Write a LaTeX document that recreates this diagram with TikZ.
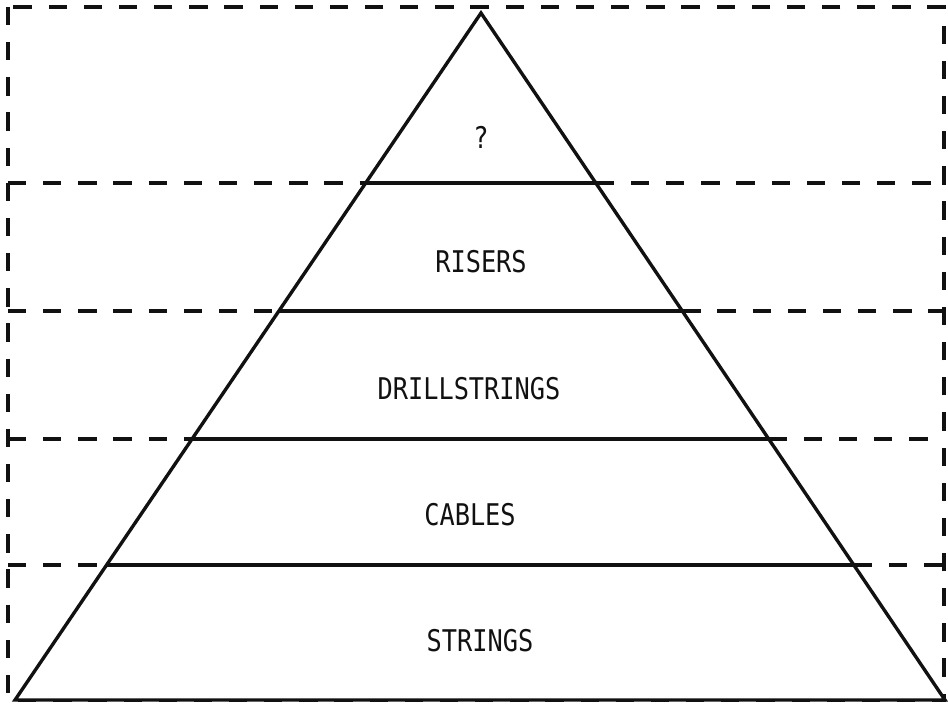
\documentclass[tikz,border=0pt]{standalone}
\usepackage{fontspec}
\setmainfont{Liberation Sans}
\newfontfamily\gothicfont{DejaVu Sans Mono}
\usepackage{tikz}
\usetikzlibrary{calc, positioning}
\definecolor{InkBlack}{HTML}{111111}
\newcommand{\tallname}[1]{\scalebox{1}[1.18]{#1}}

\tikzset{
    framedash/.style={draw=InkBlack, line width=2.4pt, dash pattern=on 13pt off 12pt},
    pyramidline/.style={draw=InkBlack, line width=2.4pt, line join=miter},
    layerlabel/.style={text=InkBlack, font=\gothicfont\fontsize{18}{20}\selectfont, inner sep=0pt}
}

\begin{document}
\begin{tikzpicture}[x=0.025cm, y=-0.025cm]
\useasboundingbox (0,0) rectangle (948,704);

% frame and pyramid corners
\coordinate (frame nw) at (8,7);
\coordinate (frame se) at (944,700);
\coordinate (apex) at (481,13);
\coordinate (base west) at (15,700);
\coordinate (base east) at (945,700);

\draw[framedash] (frame nw) rectangle (frame se);

% layer boundaries, dashed out to the frame
\foreach \lvl/\t in {1/0.1965, 2/0.3799, 3/0.5662, 4/0.7525} {
    \coordinate (pl\lvl) at ($(base west)!\t!(apex)$);
    \coordinate (pr\lvl) at ($(base east)!\t!(apex)$);
    \draw[framedash] (pl\lvl -| frame nw) -- (pl\lvl);
    \draw[framedash] (pr\lvl) -- (pr\lvl -| frame se);
}

\draw[pyramidline, fill=white] (base west) -- (apex) -- (base east) -- cycle;
\foreach \lvl in {1,...,4} {
    \draw[pyramidline] (pl\lvl) -- (pr\lvl);
}

% layer names
\node[layerlabel] (top)     at (481,137) {\tallname{?}};
\node[layerlabel] (risers)  at (481,262) {\tallname{RISERS}};
\node[layerlabel] (drill)   at (469,389) {\tallname{DRILLSTRINGS}};
\node[layerlabel] (cables)  at (470,515) {\tallname{CABLES}};
\node[layerlabel] (strings) at (480,641) {\tallname{STRINGS}};
\end{tikzpicture}
\end{document}
